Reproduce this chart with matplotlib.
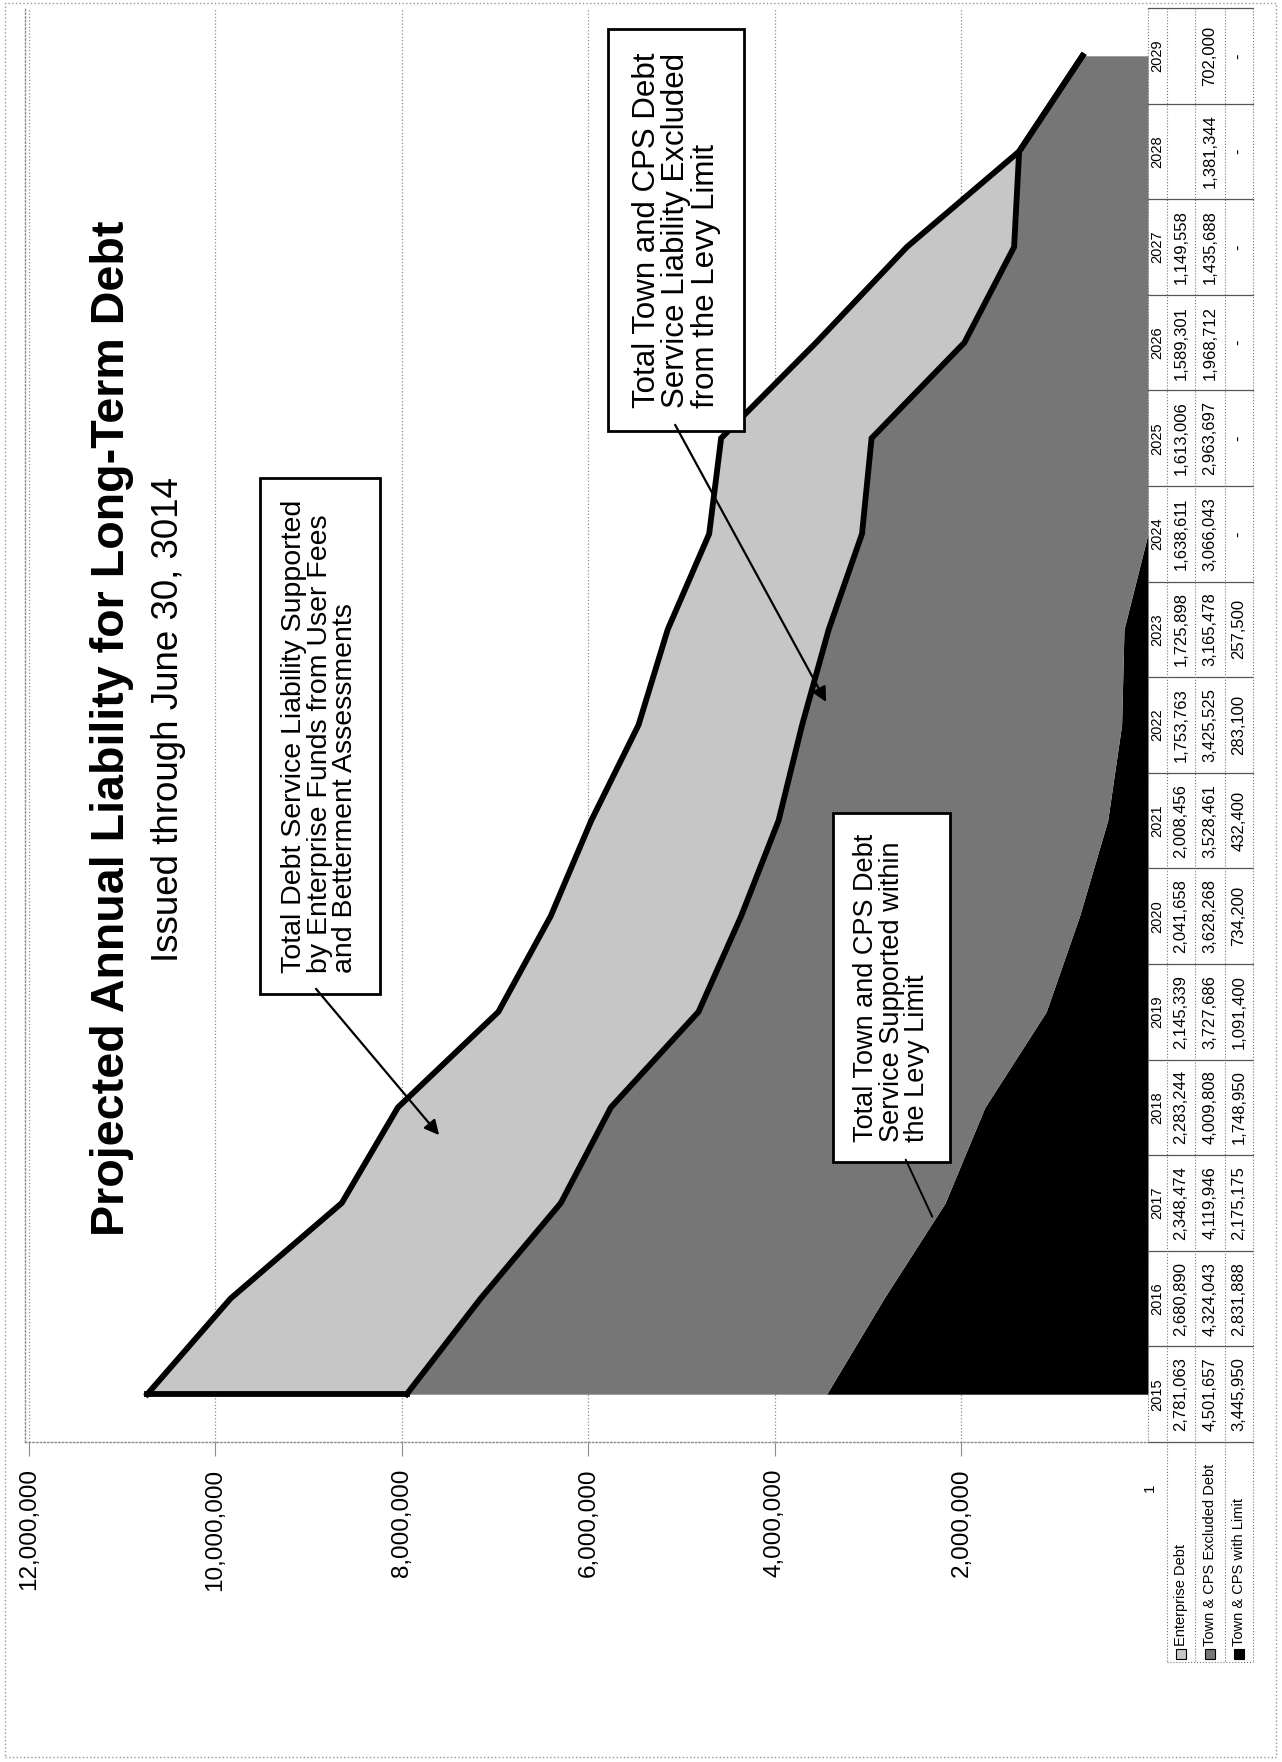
"""
Projected annual liability for long-term debt, stacked area chart with data table.
Page is laid out in portrait with the chart turned on its side.
"""

import numpy as np
import matplotlib
matplotlib.use("Agg")
import matplotlib.pyplot as plt
import matplotlib.transforms as mtransforms
from matplotlib import font_manager
from matplotlib.lines import Line2D
from matplotlib.patches import Rectangle
from matplotlib.ticker import FuncFormatter

plt.rcParams["font.family"] = ["Liberation Sans", "DejaVu Sans"]

# data
years = [2015, 2016, 2017, 2018, 2019, 2020, 2021, 2022,
         2023, 2024, 2025, 2026, 2027, 2028, 2029]
enterprise_debt = [2781063, 2680890, 2348474, 2283244, 2145339, 2041658, 2008456,
                   1753763, 1725898, 1638611, 1613006, 1589301, 1149558, None, None]
excluded_debt = [4501657, 4324043, 4119946, 4009808, 3727686, 3628268, 3528461,
                 3425525, 3165478, 3066043, 2963697, 1968712, 1435688, 1381344, 702000]
within_limit = [3445950, 2831888, 2175175, 1748950, 1091400, 734200, 432400,
                283100, 257500, 0, 0, 0, 0, 0, 0]
row_labels = ["Enterprise Debt", "Town & CPS Excluded Debt", "Town & CPS with Limit"]
value_ticks = [2000000, 4000000, 6000000, 8000000, 10000000, 12000000]

title = "Projected Annual Liability for Long-Term Debt"
subtitle = "Issued through June 30, 3014"
note_enterprise = ("Total Debt Service Liability Supported\n"
                   "by Enterprise Funds from User Fees\n"
                   "and Betterment Assessments")
note_excluded = ("Total Town and CPS Debt\n"
                 "Service Liability Excluded\n"
                 "from the Levy Limit")
note_within = ("Total Town and CPS Debt\n"
               "Service Supported within\n"
               "the Levy Limit")

LIGHT = "#c6c6c6"
DARK = "#767676"
BLACK = "#000000"
GRID = "#8c8c8c"

W, H = 1282, 1762


def fx(px):
    return px / W


def fy(py):
    return 1 - py / H


def narrow_font():
    # condensed face for the big heading if it is installed
    try:
        font_manager.findfont(font_manager.FontProperties(family="Liberation Sans Narrow"),
                              fallback_to_default=False)
        return "Liberation Sans Narrow", 1.0
    except ValueError:
        return "Liberation Sans", 0.82


def cell_text(v):
    if v is None:
        return ""
    if v == 0:
        return "-"
    return f"{v:,}"


ent = np.array([v or 0 for v in enterprise_debt], dtype=float)
exc = np.array(excluded_debt, dtype=float)
wl = np.array(within_limit, dtype=float)
idx = np.arange(len(years))
mid = wl + exc
total = mid + ent

fig = plt.figure(figsize=(W / 100, H / 100), dpi=100)

# plot area: value runs right-to-left, years run bottom-to-top
ax = fig.add_axes([fx(25), fy(1442), fx(1148) - fx(25), fy(8) - fy(1442)])
ax.set_xlim(12.04e6, 0)
ax.set_ylim(-0.5, len(years) - 0.5)

ax.fill_betweenx(idx, 0, wl, color=BLACK, lw=0)
ax.fill_betweenx(idx, wl, mid, color=DARK, lw=0)
ax.fill_betweenx(idx, mid, total, color=LIGHT, lw=0)

# heavy outline round the enterprise band
ax.plot(total, idx, color="black", lw=4.2, solid_joinstyle="miter")
ax.plot(mid, idx, color="black", lw=4.2, solid_joinstyle="miter")
ax.plot([mid[0], total[0]], [idx[0], idx[0]], color="black", lw=4.2, solid_capstyle="projecting")

ax.set_xticks(value_ticks)
ax.xaxis.set_major_formatter(FuncFormatter(lambda v, p: f"{v:,.0f}"))
ax.tick_params(axis="x", direction="out", length=10, color=GRID, width=0.8,
               labelrotation=90, labelsize=17.5, pad=9)
ax.set_yticks([])
ax.grid(axis="x", color=GRID, linestyle=":", linewidth=0.9)
ax.set_axisbelow(True)
for side in ["top", "right"]:
    ax.spines[side].set_visible(False)
for side in ["left", "bottom"]:
    ax.spines[side].set_color(GRID)
    ax.spines[side].set_linestyle(":")
    ax.spines[side].set_linewidth(1.0)

# headings
tfam, tscale = narrow_font()
fig.text(fx(112), fy(728), title, rotation=90, ha="center", va="center",
         fontsize=41 * tscale, fontweight="bold", family=tfam)
fig.text(fx(168), fy(719), subtitle, rotation=90, ha="center", va="center",
         fontsize=26.5)

# call-out boxes
def note(x, y, text, size):
    box = dict(boxstyle="square,pad=0.75", facecolor="white", edgecolor="black", linewidth=2)
    ax.text(x, y, text, rotation=90, ha="center", va="center", multialignment="left",
            fontsize=size, linespacing=0.98, bbox=box, zorder=5)


note(8.88e6, 6.88, note_enterprise, 20.5)
note(5.06e6, 12.18, note_excluded, 22.5)
note(2.75e6, 4.25, note_within, 19.5)

arrow = dict(arrowstyle="-|>", color="black", lw=1.6, mutation_scale=22,
             shrinkA=0, shrinkB=0)
ax.annotate("", xy=(7.60e6, 2.71), xytext=(8.92e6, 4.24), arrowprops=arrow, zorder=6)
ax.annotate("", xy=(3.45e6, 7.24), xytext=(5.07e6, 10.14), arrowprops=arrow, zorder=6)
ax.annotate("", xy=(2.30e6, 1.83), xytext=(2.61e6, 2.48),
            arrowprops=dict(arrowstyle="-", color="black", lw=1.4), zorder=6)

# data table alongside the value-zero edge, one column per year
blend = mtransforms.blended_transform_factory(fig.transFigure, ax.transData)
row_edges = [1148, 1167, 1195, 1225, 1253]
row_mid = [(a + b) / 2 for a, b in zip(row_edges[:-1], row_edges[1:])]
series = [enterprise_debt, excluded_debt, within_limit]

for i, yr in enumerate(years):
    fig.text(fx(row_mid[0]), i, str(yr), transform=blend, rotation=90,
             ha="center", va="center", fontsize=10.5)
    for r, vals in enumerate(series):
        fig.text(fx(row_mid[r + 1]), i, cell_text(vals[i]), transform=blend, rotation=90,
                 ha="center", va="center", fontsize=12)

for k in range(len(years) + 1):
    fig.add_artist(Line2D([fx(row_edges[0]), fx(row_edges[-1])], [k - 0.5, k - 0.5],
                          transform=blend, color="#555555", lw=0.9))
for xe in row_edges:
    fig.add_artist(Line2D([fx(xe), fx(xe)], [fy(8), fy(1442)],
                          color="#777777", lw=0.8, linestyle=":"))

# row header block
hdr_top, hdr_bot = 1442, 1662
for xe in row_edges[1:]:
    fig.add_artist(Line2D([fx(xe), fx(xe)], [fy(hdr_top), fy(hdr_bot)],
                          color="#777777", lw=0.8, linestyle=":"))
fig.add_artist(Line2D([fx(row_edges[1]), fx(row_edges[-1])], [fy(hdr_bot), fy(hdr_bot)],
                      color="#777777", lw=0.8, linestyle=":"))
fig.text(fx(1150), fy(1488), "1", rotation=90, ha="center", va="center", fontsize=11)

key_colors = [LIGHT, DARK, BLACK]
for r, label in enumerate(row_labels):
    xc = row_mid[r + 1]
    fig.add_artist(Rectangle((fx(xc - 5), fy(1659)), 10 / W, 10 / H,
                             transform=fig.transFigure, facecolor=key_colors[r],
                             edgecolor="black", lw=0.8))
    fig.text(fx(xc), fy(1646), label, rotation=90, ha="center", va="bottom", fontsize=10.5)

# page border
fig.add_artist(Rectangle((fx(5), fy(1757)), fx(1276) - fx(5), fy(3) - fy(1757),
                         transform=fig.transFigure, fill=False, edgecolor="#999999",
                         lw=1, linestyle=":"))

fig.savefig("out.png", dpi=100)
